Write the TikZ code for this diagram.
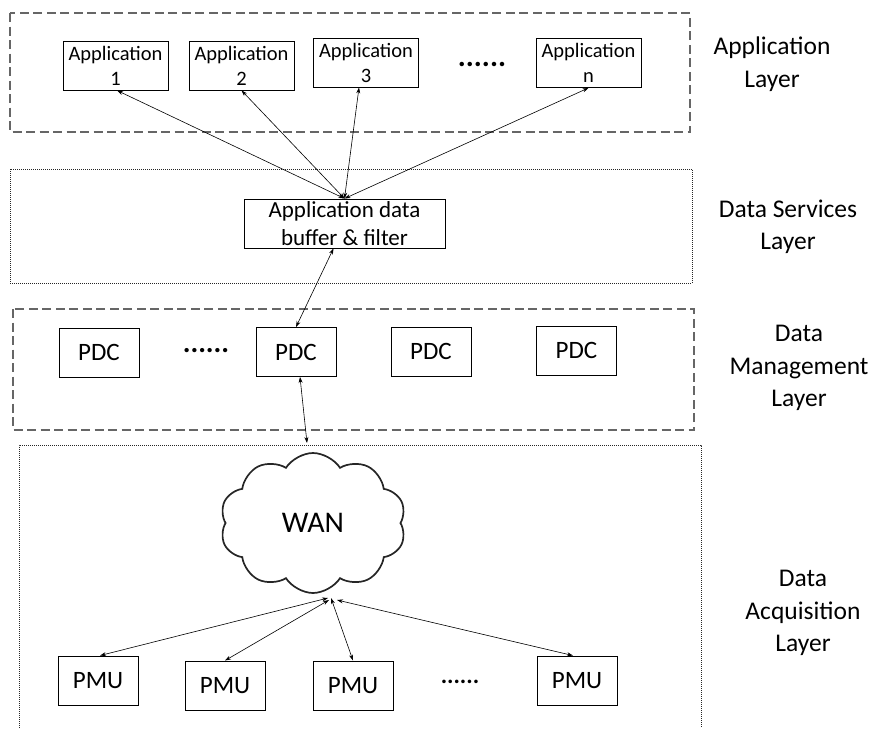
\documentclass[tikz,border=0pt]{standalone}
\usepackage{fontspec}
\setmainfont{Carlito}
\usetikzlibrary{arrows.meta,shapes.symbols}
\begin{document}
\begin{tikzpicture}[x=1pt,y=-1pt,
  appbox/.style={draw=black, line width=0.9pt, minimum width=105pt, minimum height=49pt,
    inner sep=0pt, align=center, font=\fontsize{20.5}{25}\selectfont},
  unitbox/.style={draw=black, line width=0.9pt, minimum width=80pt, minimum height=49pt,
    inner sep=0pt, font=\fontsize{25}{30}\selectfont},
  bufbox/.style={draw=black, line width=0.9pt, minimum width=201pt, minimum height=49pt,
    inner sep=0pt, align=center, font=\fontsize{23}{28}\selectfont},
  layerdash/.style={draw=black!60, line width=1.2pt, dash pattern=on 9pt off 4.5pt},
  layerdot/.style={draw=black!85, line width=0.8pt, dash pattern=on 1pt off 1pt},
  link/.style={{Stealth[length=6pt,width=4pt]}-{Stealth[length=6pt,width=4pt]}, line width=0.6pt},
  layerlabel/.style={align=center, font=\fontsize{25.5}{32.5}\selectfont},
  ellipsis/.style={anchor=base, inner sep=0pt, font=\bfseries\fontsize{#1}{#1}\selectfont}
]
\useasboundingbox (0,0) rectangle (872,728);

% layer frames
\draw[layerdash] (10,13) rectangle (690,132);
\draw[layerdot] (10,169) rectangle (692,283);
\draw[layerdash] (13,309) rectangle (694,430);
\draw[layerdot] (19,728) -- (19,445) -- (701,445) -- (701,728);

% layer captions
\node[layerlabel] (lapp) at (772,64) {Application\\Layer};
\node[layerlabel] (lsrv) at (788,227) {Data Services\\Layer};
\node[layerlabel] (lmgt) at (799,368) {Data\\Management\\Layer};
\node[layerlabel] (lacq) at (803,613) {Data\\Acquisition\\Layer};

% application layer
\node[appbox] (app1) at (115.5,65.5) {Application\\1};
\node[appbox] (app2) at (241.5,65.5) {Application\\2};
\node[appbox] (app3) at (366,62.5) {Application\\3};
\node[appbox] (appn) at (588.5,63) {Application\\n};
\node[ellipsis=30] (appdots) at (482,66) {......};

% data services layer
\node[bufbox] (buf) at (344.5,223.5) {Application data\\buffer \& filter};

% data management layer
\node[unitbox] (pdc1) at (99,352.5) {PDC};
\node[unitbox] (pdc2) at (296,352) {PDC};
\node[unitbox] (pdc3) at (431,351.5) {PDC};
\node[unitbox] (pdc4) at (576.5,350.5) {PDC};
\node[ellipsis=29] (pdcdots) at (206,352) {......};

% data acquisition layer
\node[cloud, draw=black!85, line width=1.7pt, cloud puffs=10, cloud puff arc=115,
      minimum width=186pt, minimum height=140pt, inner sep=0pt,
      font=\fontsize{30}{30}\selectfont] (wan) at (313,523) {WAN};
\node[unitbox] (pmu1) at (98,680.5) {PMU};
\node[unitbox] (pmu2) at (225,685.5) {PMU};
\node[unitbox] (pmu3) at (353,685.5) {PMU};
\node[unitbox] (pmu4) at (577,680.5) {PMU};
\node[ellipsis=24] (pmudots) at (460,683) {......};

% connectors
\coordinate (acqtop) at (307,443);
\coordinate (wanhub) at (331,598);
\draw[link] (buf.north) -- ([xshift=1.5pt]app1.south);
\draw[link] (buf.north) -- (app2.south);
\draw[link] (buf.north) -- ([xshift=-7pt]app3.south);
\draw[link] (buf.north) -- (appn.south);
\draw[link] ([xshift=-11pt]buf.south) -- (pdc2.north);
\draw[link] ([xshift=4pt]pdc2.south) -- (acqtop);
\draw[link] ([xshift=-3pt]wanhub) -- ([xshift=2pt]pmu1.north);
\draw[link] ([xshift=-2pt,yshift=-2pt]wanhub) -- (pmu2.north);
\draw[link] (wanhub) -- (pmu3.north);
\draw[link] ([xshift=6pt,yshift=-2pt]wanhub) -- ([xshift=-4pt]pmu4.north);
\end{tikzpicture}
\end{document}
